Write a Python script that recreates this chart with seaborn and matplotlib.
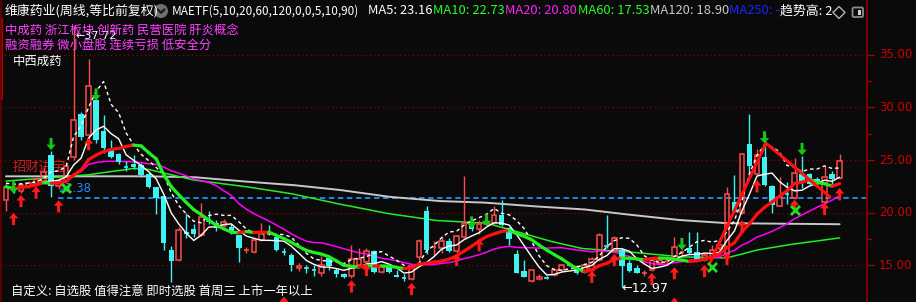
import numpy as np
import pandas as pd
import matplotlib
matplotlib.use("Agg")
import matplotlib.pyplot as plt
import matplotlib.transforms as mtransforms
from matplotlib.path import Path
from matplotlib.patches import Circle, Polygon, FancyBboxPatch, Rectangle
import seaborn as sns

# ---------------- data (weekly candles) ----------------
opens = [21.2, 22.3, 22.1, 22.5, 22.7, 23.0, 25.46, 22.5, 23.0, 25.3,
         29.4, 27.4, 30.7, 27.8, 25.95, 25.6, 24.4, 24.6, 24.5, 23.7,
         22.46, 21.6, 16.45, 15.5, 18.2, 18.4, 17.9, 19.35, 19.0, 18.7,
         18.67, 17.9, 16.4, 16.3, 17.4, 18.25, 17.7, 16.35, 16.0, 14.7,
         14.75, 14.7, 14.3, 15.66, 14.6, 14.2, 14.0, 15.0, 15.3, 16.4,
         14.4, 14.8, 14.1, 13.85, 13.7, 15.76, 20.2, 16.6, 16.6, 17.3,
         16.4, 17.7, 18.8, 18.4, 18.9, 19.05, 19.8, 18.5, 16.1, 14.5,
         13.5, 13.7, 13.9, 14.1, 14.6, 15.1, 14.9, 14.4, 14.6, 15.5,
         16.9, 16.4, 16.45, 15.2, 14.7, 14.2, 14.6, 15.2, 15.3, 15.5,
         16.2, 16.6, 16.3, 15.5, 15.8, 16.6, 16.1, 21.0, 20.0, 26.5,
         23.7, 25.3, 22.5, 20.6, 21.85, 21.4, 23.7, 23.7, 23.2, 21.0,
         23.7, 23.3]
highs = [22.8, 22.6, 22.8, 23.0, 23.4, 24.3, 25.9, 23.3, 24.8, 37.72,
         29.6, 34.6, 31.0, 29.3, 26.9, 25.7, 24.9, 25.5, 24.7, 23.9,
         22.46, 21.6, 16.8, 18.6, 20.0, 18.9, 20.9, 20.2, 19.3, 19.4,
         18.9, 17.9, 16.7, 17.5, 19.0, 18.8, 17.7, 16.6, 16.2, 15.2,
         15.0, 15.0, 15.9, 15.9, 14.7, 14.3, 16.9, 16.6, 16.6, 16.5,
         14.9, 14.8, 14.6, 14.2, 14.9, 17.5, 20.6, 17.3, 17.8, 17.6,
         17.9, 23.5, 19.3, 19.3, 19.3, 20.6, 21.2, 18.6, 16.5, 15.5,
         14.6, 14.2, 14.0, 14.7, 15.1, 15.3, 15.0, 15.2, 15.8, 18.1,
         19.8, 17.8, 16.6, 15.5, 15.0, 14.6, 15.7, 15.6, 15.6, 17.7,
         16.5, 18.2, 18.2, 16.2, 16.9, 17.3, 22.4, 23.6, 25.7, 29.4,
         26.0, 27.5, 22.6, 23.4, 22.9, 25.2, 25.4, 23.8, 23.4, 24.4,
         24.0, 25.6]
lows = [20.2, 21.9, 21.9, 22.3, 22.5, 22.8, 21.5, 22.2, 22.8, 25.0,
        26.9, 27.0, 26.6, 25.7, 25.2, 24.6, 24.0, 24.1, 23.4, 22.3,
        19.9, 16.45, 13.4, 15.4, 17.6, 17.7, 17.8, 18.9, 18.3, 18.6,
        18.0, 15.35, 16.2, 16.2, 17.3, 17.9, 16.4, 16.0, 14.5, 14.5,
        14.3, 14.0, 14.0, 14.6, 13.9, 13.8, 13.8, 14.9, 15.2, 14.3,
        14.3, 14.3, 13.9, 13.5, 13.6, 15.5, 16.1, 16.0, 16.2, 16.3,
        16.2, 17.6, 18.3, 18.0, 18.7, 18.9, 18.7, 16.9, 14.3, 13.9,
        13.4, 13.6, 13.7, 14.0, 14.5, 14.9, 14.2, 14.3, 14.4, 15.4,
        16.6, 16.3, 12.97, 14.4, 14.3, 14.0, 14.5, 15.1, 15.2, 15.4,
        15.9, 16.1, 15.5, 15.4, 15.7, 16.5, 15.9, 20.0, 19.9, 23.3,
        23.6, 22.5, 20.0, 20.6, 20.8, 21.3, 22.3, 22.6, 22.4, 20.9,
        22.5, 23.2]
closes = [22.46, 22.1, 22.6, 22.8, 23.2, 23.9, 22.5, 23.0, 24.4, 28.8,
          27.2, 32.0, 26.9, 26.1, 25.3, 24.8, 24.35, 24.3, 23.6, 22.4,
          21.4, 17.1, 15.4, 18.35, 18.0, 17.95, 19.6, 19.25, 18.5, 19.1,
          18.2, 16.6, 16.5, 17.4, 18.2, 18.15, 16.45, 16.25, 15.0, 14.9,
          14.7, 14.6, 15.0, 14.93, 14.2, 13.9, 15.57, 15.57, 16.4, 14.4,
          14.8, 14.4, 13.9, 13.8, 14.9, 17.3, 16.45, 16.7, 17.3, 16.4,
          17.8, 19.0, 18.4, 18.9, 19.1, 19.8, 18.8, 17.5, 14.3, 13.9,
          14.55, 13.85, 13.8, 14.6, 15.0, 15.05, 14.3, 15.0, 15.6, 17.9,
          16.8, 17.6, 14.93, 14.5, 14.3, 14.3, 15.5, 15.5, 15.4, 16.7,
          16.3, 16.2, 15.6, 16.0, 16.5, 16.9, 21.8, 20.1, 25.6, 24.4,
          25.5, 22.6, 20.7, 21.5, 21.75, 23.8, 22.9, 22.7, 22.7, 23.35,
          23.2, 24.9]

# long moving averages (history before the window is unknown ->)
ma60_idx = [0, 11, 17, 19, 25, 32, 38, 44.5, 51, 57.4, 64, 68, 72.7, 76.7, 83, 90, 96, 100, 104.7, 111]
ma60_val = [23.0, 23.6, 24.2, 24.1, 23.1, 22.46, 21.8, 20.8, 19.9, 19.25, 19.0, 18.2, 17.25, 16.6,
            16.26, 15.8, 15.7, 16.45, 17.0, 17.6]
ma120_idx = [0, 18.8, 25.2, 31.8, 38.5, 44.5, 51.1, 57.8, 63.8, 70.4, 77.1, 83.1, 89.7, 96, 111]
ma120_val = [23.45, 23.45, 23.36, 22.96, 22.6, 22.15, 21.5, 21.1, 20.95, 20.6, 20.3, 19.8, 19.3, 19.0, 18.9]

# trend zig-zag
zig_idx = [93.7, 101.2, 109.7]
zig_val = [15.2, 26.6, 21.5]

# signals
buy_idx = [1, 2, 4, 7, 11, 37, 46, 48, 54, 60, 63, 78, 81, 86, 89, 89, 93, 96, 98, 100, 105, 109, 111]
buy_val = [19.4, 21.1, 21.9, 20.6, 26.5, 11.45, 13.0, 14.55, 12.75, 15.5, 16.9, 13.9, 15.5, 13.7,
           14.25, 11.35, 14.45, 15.6, 18.7, 22.5, 20.65, 20.35, 21.75]
sell_idx = [1, 6, 12, 62, 64, 90, 101, 106]
sell_val = [22.39, 26.52, 31.22, 19.06, 19.3, 17.02, 27.14, 26.04]
cross_idx = [8, 94, 105]
cross_val = [22.35, 14.84, 20.25]

level_price = 21.38
price_ticks = [15.0, 17.5, 20.0, 22.5, 25.0, 27.5, 30.0, 32.5, 35.0]

# ---------------- style ----------------
sns.set_theme(style="dark", rc={"axes.facecolor": "#0a0a0a", "figure.facecolor": "#0a0a0a"})
plt.rcParams['font.family'] = ['Noto Sans CJK SC', 'DejaVu Sans']

BG = "#0a0a0a"
UP = "#ff4a4a"
DN = "#3ef2f2"
GRID = "#8c0000"

W, H = 916, 302
fig = plt.figure(figsize=(W / 100, H / 100), dpi=100, facecolor=BG)
AX_R = 867
ax = fig.add_axes([0, 0, AX_R / W, 1])
ax.set_facecolor(BG)

X0, DX = 6.0, 7.51            # pixel x of first candle, pixel spacing
Y15, PPU = 265.3, 10.53       # pixel y of price 15, pixels per unit
ax.set_xlim((0 - X0) / DX, (AX_R - X0) / DX)
ax.set_ylim(15 - (H - Y15) / PPU, 15 + Y15 / PPU)

n = len(closes)
df = pd.DataFrame({"i": np.arange(n), "open": opens, "high": highs, "low": lows, "close": closes})
df["ma5"] = df["close"].rolling(5, min_periods=1).mean()
df["ma10"] = df["close"].rolling(10, min_periods=1).mean()
df["ma20"] = df["close"].rolling(20, min_periods=1).mean()
df["hma"] = df["high"].rolling(5, min_periods=1).mean()

# grid
for p in [15, 20, 25, 30, 35]:
    ax.axhline(p, color=GRID, lw=0.9, ls=(0, (1, 2.4)), zorder=0.5)

# 招财进宝 text (behind)
ax.text(13 / W, 1 - 167 / H, "招财进宝", transform=fig.transFigure, color="#e42020",
        fontsize=9.6, va="center", ha="left", zorder=0.6, alpha=0.9)

# blue level line + label
ax.hlines(level_price, (58 - X0) / DX, (AX_R - X0) / DX, color="#1e8fff", lw=1.3,
          ls=(0, (3, 2)), zorder=0.7)
ax.text(58 / W, 1 - 189 / H, f"{level_price:.2f}", transform=fig.transFigure, color="#1e8fff",
        fontsize=8.3, family="DejaVu Sans", va="center", ha="left", zorder=0.7)

# long MAs
sns.lineplot(x=ma120_idx, y=ma120_val, color="#c8c8c8", lw=1.4, ax=ax, zorder=1)
sns.lineplot(x=ma60_idx, y=ma60_val, color="#22ee22", lw=1.1, ax=ax, zorder=1)
sns.lineplot(data=df, x="i", y="ma20", color="#ff00ff", lw=1.1, ax=ax, zorder=1.1)

# candles
bw = 0.62
for i, (o, h, l, c) in enumerate(zip(opens, highs, lows, closes)):
    if c >= o:
        if c - o < 0.14:
            ax.hlines(c, i - bw / 2, i + bw / 2, color=UP, lw=1.2, zorder=2)
            ax.vlines(i, l, h, color=UP, lw=1.0, zorder=2)
        else:
            ax.bar(i, c - o, bottom=o, width=bw, fill=False, edgecolor=UP, linewidth=1.1, zorder=2)
            ax.vlines(i, c, h, color=UP, lw=1.0, zorder=2)
            ax.vlines(i, l, o, color=UP, lw=1.0, zorder=2)
    else:
        ax.vlines(i, l, h, color=DN, lw=1.0, zorder=2)
        if o - c < 0.14:
            ax.hlines(c, i - bw / 2, i + bw / 2, color=DN, lw=1.2, zorder=2)
        else:
            ax.bar(i, o - c, bottom=c, width=bw + 0.1, color=DN, linewidth=0, zorder=2)

# short MAs
sns.lineplot(data=df, x="i", y="hma", color="white", lw=1.0, ax=ax, zorder=3,
             linestyle=(0, (2.5, 2.2)))
sns.lineplot(data=df, x="i", y="ma5", color="white", lw=1.0, ax=ax, zorder=3)

# MA10 thick, coloured by direction
m10 = df["ma10"].values
for k in range(1, n):
    col = "#ff1010" if m10[k] >= m10[k - 1] else "#22ee22"
    ax.plot([k - 1, k], [m10[k - 1], m10[k]], color=col, lw=2.3, solid_capstyle="round", zorder=3.5)

# zig-zag trend line
sns.lineplot(x=zig_idx, y=zig_val, color="#ff1010", lw=2.2, ax=ax, zorder=3.6)

# signal markers
up_verts = [(0, 0.5), (0.38, 0.05), (0.12, 0.05), (0.12, -0.5), (-0.12, -0.5), (-0.12, 0.05),
            (-0.38, 0.05), (0, 0.5)]
up_path = Path(up_verts, [Path.MOVETO] + [Path.LINETO] * 6 + [Path.CLOSEPOLY])
dn_path = Path([(x, -y) for x, y in up_verts], [Path.MOVETO] + [Path.LINETO] * 6 + [Path.CLOSEPOLY])
sns.scatterplot(x=buy_idx, y=buy_val, marker=up_path, s=78, color="#ff1a1a", edgecolor="none",
                ax=ax, zorder=5)
sns.scatterplot(x=sell_idx, y=sell_val, marker=dn_path, s=78, color="#14c814", edgecolor="none",
                ax=ax, zorder=5)
ax.scatter(cross_idx, cross_val, marker="x", s=42, color="#22dd22", linewidths=2.0, zorder=5)

ax.set_xlabel("")
ax.set_ylabel("")
ax.set_xticks([])
ax.set_yticks([])
for s in ax.spines.values():
    s.set_visible(False)

# right axis ticks / labels
blend = mtransforms.blended_transform_factory(ax.transAxes, ax.transData)
for p in price_ticks:
    major = abs(p % 5) < 1e-6
    ax.plot([1.0, (874 if major else 871) / AX_R], [p, p], transform=blend, color="#a00000",
            lw=1.0, clip_on=False)
    if major:
        ax.text(879 / AX_R, p, f"{p:.2f}", transform=blend, color="#d00000", fontsize=8.4,
                family="DejaVu Sans", va="center", ha="left", clip_on=False)

# ---------------- overlay (pixel coordinates) ----------------
ov = fig.add_axes([0, 0, 1, 1])
ov.set_xlim(0, W)
ov.set_ylim(H, 0)
ov.set_axis_off()
ov.patch.set_alpha(0)

ov.plot([AX_R, AX_R], [0, H], color="#8c0000", lw=1.3)
ov.plot([1, 1], [0, H], color="#6a0000", lw=1.2)
ov.add_patch(Rectangle((0, 18), 3, 82, color="#b00000", lw=0))

# labels for extremes
ov.text(76, 36, "←37.72", color="white", fontsize=8.0, family="DejaVu Sans", va="center", zorder=1)
ov.text(621, 288, "←12.97", color="white", fontsize=9.2, family="DejaVu Sans", va="center")

hy = 11
fs = 9.3
ov.text(5, hy, "维康药业(周线,等比前复权)", color="white", fontsize=fs, va="center")
ov.add_patch(Circle((161, hy), 6.3, color="#707070"))
ov.plot([157.6, 161, 164.4], [9.4, 12.8, 9.4], color="#1a1a1a", lw=1.6)
ov.text(172, hy, "MAETF(5,10,20,60,120,0,0,5,10,90)", color="white", fontsize=8.5, va="center")
ov.text(368, hy, "MA5: 23.16", color="white", fontsize=fs, va="center")
ov.text(433, hy, "MA10: 22.73", color="#22ff22", fontsize=fs, va="center")
ov.text(505, hy, "MA20: 20.80", color="#ff22ff", fontsize=fs, va="center")
ov.text(578, hy, "MA60: 17.53", color="#22ff22", fontsize=fs, va="center")
ov.text(650, hy, "MA120: 18.90", color="#c8c8c8", fontsize=fs, va="center")
ov.text(729, hy, "MA250: -", color="#2020ff", fontsize=fs, va="center")
ov.text(780, hy, "趋势高: 24.24", color="white", fontsize=fs, va="center")
ov.add_patch(Rectangle((833, 0), 33, 20, color=BG, lw=0, zorder=3))
ov.add_patch(Polygon([(839, 6.5), (845, 12.5), (839, 18.5), (833, 12.5)], closed=True,
                     fill=False, ec="#b0b0b0", lw=1.0, zorder=4))
ov.add_patch(FancyBboxPatch((852.5, 7.5), 10.5, 9.5, boxstyle="round,pad=0,rounding_size=1.5",
                            fc=BG, ec="#8a8a8a", lw=1.3, zorder=4))
ov.add_patch(Rectangle((857.5, 9.5), 3.8, 5.5, color="#d0d0d0", lw=0, zorder=5))

mag = "#ff40ff"
ov.text(5, 30, "中成药 浙江板块 创新药 民营医院 肝炎概念", color=mag, fontsize=8.9, va="center", zorder=2)
ov.text(5, 46, "融资融券 微小盘股 连续亏损 低安全分", color=mag, fontsize=8.9, va="center", zorder=2)
ov.text(13, 61, "中西成药", color="white", fontsize=8.9, va="center")
ov.text(11, 292, "自定义: 自选股 值得注意 即时选股 首周三 上市一年以上", color="white", fontsize=8.9,
        va="center")

fig.savefig("out.png", dpi=100, facecolor=BG)
